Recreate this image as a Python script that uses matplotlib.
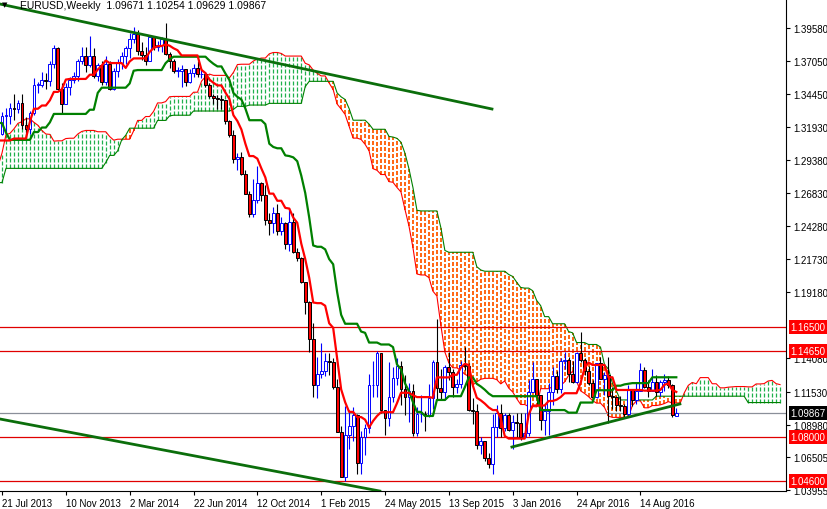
import numpy as np
import matplotlib
matplotlib.use('Agg')
import matplotlib.pyplot as plt
from matplotlib.patches import Rectangle
from matplotlib.collections import LineCollection

plt.rcParams['font.family'] = ['Liberation Sans', 'DejaVu Sans']

# Weekly EURUSD, Jan 2012 .. Oct 2016 (first open = 1.2940)
first_open = 1.2940
last_open = 1.09671
closes = [
 1.2720,1.2680,1.2930,1.3210,1.3150,1.3190,1.3240,1.3450,1.3200,1.3120,1.3170,1.3270,1.3340,1.3080,1.3080,1.3200,1.3240,1.3080,1.2920,1.2780,1.2520,1.2430,1.2520,1.2640,1.2570,1.2660,1.2290,1.2250,1.2150,1.2320,1.2390,1.2290,1.2330,1.2510,1.2580,1.2810,1.3130,1.2980,1.2860,1.3030,1.2950,1.3020,1.2940,1.2830,1.2710,1.2740,1.2970,1.2990,1.2930,1.3160,1.3190,1.3220,
 1.3070,1.3350,1.3310,1.3460,1.3640,1.3360,1.3360,1.3190,1.3020,1.3000,1.3080,1.2990,1.2820,1.2990,1.3110,1.3050,1.3030,1.3110,1.2990,1.2840,1.2930,1.2990,1.3220,1.3340,1.3120,1.3010,1.2830,1.3070,1.3140,1.3280,1.3280,1.3340,1.3330,1.3380,1.3210,1.3180,1.3300,1.3520,1.3520,1.3560,1.3550,1.3680,1.3800,1.3490,1.3370,1.3500,1.3560,1.3590,1.3700,1.3740,1.3670,1.3740,
 1.3590,1.3670,1.3540,1.3680,1.3490,1.3630,1.3690,1.3740,1.3800,1.3870,1.3910,1.3780,1.3750,1.3700,1.3890,1.3810,1.3830,1.3870,1.3760,1.3700,1.3630,1.3630,1.3640,1.3540,1.3610,1.3650,1.3600,1.3600,1.3520,1.3430,1.3420,1.3410,1.3400,1.3240,1.3130,1.2950,1.2960,1.2830,1.2680,1.2520,1.2630,1.2760,1.2670,1.2480,1.2450,1.2530,1.2390,1.2450,1.2290,1.2460,1.2230,1.2180,
 1.2000,1.1840,1.1560,1.1200,1.1290,1.1310,1.1390,1.1380,1.1190,1.0840,1.0490,1.0820,1.0890,1.0970,1.0600,1.0800,1.0870,1.1200,1.1200,1.1450,1.1010,1.0950,1.1110,1.1260,1.1350,1.1170,1.1110,1.1160,1.0830,1.0980,1.0980,1.0970,1.1100,1.1380,1.1180,1.1150,1.1340,1.1300,1.1190,1.1210,1.1360,1.1350,1.1010,1.1000,1.0740,1.0770,1.0640,1.0590,1.0880,1.0990,1.0870,1.0970,
 1.0860,1.0920,1.0910,1.0800,1.0830,1.1150,1.1250,1.1130,1.0930,1.1000,1.1150,1.1270,1.1170,1.1390,1.1400,1.1290,1.1230,1.1450,1.1400,1.1310,1.1220,1.1110,1.1370,1.1250,1.1280,1.1120,1.1110,1.1050,1.1040,1.0980,1.1170,1.1090,1.1160,1.1320,1.1190,1.1160,1.1230,1.1150,1.1230,1.1240,1.1200,1.0970,1.09867]
highs = [
 1.3080,1.2810,1.2990,1.3230,1.3230,1.3320,1.3290,1.3460,1.3490,1.3300,1.3190,1.3290,1.3385,1.3360,1.3210,1.3220,1.3280,1.3280,1.3110,1.2970,1.2820,1.2620,1.2620,1.2670,1.2750,1.2690,1.2750,1.2330,1.2320,1.2390,1.2440,1.2440,1.2380,1.2560,1.2640,1.2820,1.3170,1.3170,1.3010,1.3040,1.3070,1.3140,1.3040,1.3010,1.2880,1.2790,1.2990,1.3010,1.3090,1.3170,1.3310,1.3260,
 1.3390,1.3400,1.3400,1.3480,1.3710,1.3560,1.3450,1.3440,1.3230,1.3110,1.3110,1.3050,1.3000,1.3020,1.3200,1.3200,1.3070,1.3240,1.3240,1.3010,1.3000,1.3070,1.3310,1.3390,1.3420,1.3130,1.3090,1.3150,1.3210,1.3310,1.3340,1.3380,1.3450,1.3400,1.3450,1.3270,1.3320,1.3570,1.3540,1.3620,1.3610,1.3700,1.3830,1.3810,1.3530,1.3530,1.3580,1.3620,1.3720,1.3810,1.3810,1.3895,
 1.3800,1.3690,1.3700,1.3740,1.3700,1.3650,1.3720,1.3770,1.3820,1.3920,1.3967,1.3940,1.3850,1.3810,1.3905,1.3880,1.3860,1.3890,1.3993,1.3770,1.3720,1.3660,1.3670,1.3570,1.3640,1.3680,1.3700,1.3650,1.3620,1.3530,1.3450,1.3440,1.3440,1.3400,1.3250,1.3170,1.2990,1.3000,1.2860,1.2700,1.2790,1.2890,1.2770,1.2750,1.2530,1.2580,1.2600,1.2500,1.2460,1.2570,1.2530,1.2260,
 1.2190,1.1970,1.1850,1.1680,1.1420,1.1530,1.1450,1.1450,1.1410,1.1250,1.0890,1.1040,1.1010,1.1030,1.0980,1.0850,1.0900,1.1290,1.1390,1.1467,1.1440,1.1000,1.1380,1.1340,1.1410,1.1390,1.1280,1.1220,1.1210,1.1030,1.1130,1.1000,1.1210,1.1400,1.1714,1.1330,1.1360,1.1460,1.1330,1.1250,1.1390,1.1500,1.1370,1.1100,1.1060,1.0800,1.0760,1.0680,1.0980,1.1050,1.1060,1.0990,
 1.0990,1.0970,1.0990,1.0990,1.0990,1.1240,1.1380,1.1190,1.1070,1.1060,1.1220,1.1340,1.1310,1.1410,1.1460,1.1420,1.1390,1.1460,1.1616,1.1410,1.1350,1.1240,1.1370,1.1420,1.1300,1.1420,1.1190,1.1120,1.1120,1.1060,1.1200,1.1170,1.1220,1.1370,1.1340,1.1240,1.1330,1.1280,1.1240,1.1290,1.1270,1.1210,1.10254]
lows = [
 1.2660,1.2625,1.2660,1.2900,1.3030,1.3110,1.2975,1.3190,1.3180,1.3060,1.2980,1.3110,1.3150,1.3030,1.3000,1.3000,1.3120,1.3040,1.2910,1.2640,1.2500,1.2290,1.2380,1.2440,1.2520,1.2400,1.2270,1.2170,1.2140,1.2040,1.2130,1.2260,1.2240,1.2310,1.2480,1.2550,1.2800,1.2940,1.2800,1.2860,1.2800,1.2900,1.2880,1.2800,1.2660,1.2660,1.2730,1.2880,1.2880,1.2920,1.3150,1.3160,
 1.3000,1.2990,1.3260,1.3260,1.3440,1.3350,1.3270,1.3140,1.2970,1.2950,1.2950,1.2840,1.2750,1.2740,1.2980,1.2990,1.2960,1.3020,1.2960,1.2800,1.2800,1.2850,1.2990,1.3210,1.3100,1.2970,1.2820,1.2760,1.3020,1.3130,1.3150,1.3220,1.3250,1.3300,1.3180,1.3100,1.3140,1.3290,1.3460,1.3500,1.3490,1.3510,1.3650,1.3480,1.3300,1.3380,1.3440,1.3530,1.3550,1.3680,1.3620,1.3660,
 1.3570,1.3550,1.3520,1.3520,1.3480,1.3480,1.3580,1.3640,1.3680,1.3730,1.3840,1.3750,1.3710,1.3670,1.3700,1.3790,1.3780,1.3770,1.3750,1.3650,1.3610,1.3580,1.3500,1.3510,1.3530,1.3580,1.3580,1.3570,1.3500,1.3420,1.3370,1.3330,1.3330,1.3220,1.3120,1.2920,1.2860,1.2820,1.2680,1.2500,1.2500,1.2610,1.2620,1.2440,1.2360,1.2380,1.2360,1.2360,1.2250,1.2240,1.2220,1.2160,
 1.1990,1.1750,1.1460,1.1110,1.1100,1.1260,1.1270,1.1280,1.1170,1.0840,1.0490,1.0462,1.0710,1.0770,1.0520,1.0520,1.0660,1.0830,1.1110,1.1110,1.0990,1.0820,1.0890,1.1070,1.1200,1.1050,1.0970,1.0920,1.0810,1.0810,1.0920,1.0850,1.0960,1.1020,1.1090,1.1090,1.1090,1.1240,1.1110,1.1140,1.1180,1.1320,1.1000,1.0900,1.0710,1.0670,1.0620,1.0560,1.0520,1.0800,1.0800,1.0850,
 1.0850,1.0710,1.0800,1.0780,1.0800,1.0810,1.1150,1.1060,1.0860,1.0820,1.0820,1.1050,1.1140,1.1140,1.1330,1.1230,1.1220,1.1220,1.1380,1.1280,1.1200,1.1100,1.1100,1.1250,1.1130,1.0910,1.1020,1.1000,1.1000,1.0950,1.0960,1.1040,1.1060,1.1160,1.1180,1.1110,1.1170,1.1120,1.1120,1.1160,1.1180,1.0960,1.09629]

first_visible = 81  # week of 21 Jul 2013
date_labels = ['21 Jul 2013','10 Nov 2013','2 Mar 2014','22 Jun 2014','12 Oct 2014','1 Feb 2015',
               '24 May 2015','13 Sep 2015','3 Jan 2016','24 Apr 2016','14 Aug 2016']
ytick_vals = [1.39580,1.37050,1.34450,1.31930,1.29380,1.26830,1.24280,1.21730,1.19180,
              1.14080,1.11530,1.08980,1.06505,1.03955]
levels = [1.16500, 1.14650, 1.08000, 1.04600]
current = 1.09867
# trend lines: (bar index, price) endpoints
trend_upper = [(80.5, 1.4143), (203.8, 1.3333)]
trend_lower = [(80.5, 1.0941), (175.7, 1.0385)]
trend_support = [(208.8, 1.0725), (250.9, 1.1057)]

C = np.array(closes); H = np.array(highs); L = np.array(lows)
n = len(C)
O = np.concatenate([[first_open], C[:-1]]); O[-1] = last_open

def midline(p):
    r = np.full(n, np.nan)
    for i in range(p - 1, n):
        r[i] = (H[i-p+1:i+1].max() + L[i-p+1:i+1].min()) / 2
    return r
tenkan = midline(9); kijun = midline(26); sb = midline(52)
spanA = np.full(n + 26, np.nan); spanB = np.full(n + 26, np.nan)
spanA[26:] = (tenkan + kijun) / 2
spanB[26:] = sb

fig = plt.figure(figsize=(8.28, 5.10), dpi=100)
ax = fig.add_axes([0, 18/510, 786/828, 492/510])
x0 = 80.5; x1 = 80.5 + 786/3.99
ymax = 1.41818; ymin = ymax - 492/1296
ax.set_xlim(x0, x1); ax.set_ylim(ymin, ymax)

idx = np.arange(n + 26)
# cloud hatch: vertical columns made of short dashes (4px on, 2px off)
px = 1 / 1296.0
dash_on, period = 4 * px, 6 * px
segs_bull, segs_bear = [], []
for i in range(first_visible - 1, n + 26):
    a, b = spanA[i], spanB[i]
    if np.isnan(a) or np.isnan(b):
        continue
    lo, hi = min(a, b), max(a, b)
    target = segs_bull if a >= b else segs_bear
    y = lo
    while y < hi:
        target.append([(i, y), (i, min(y + dash_on, hi))])
        y += period
ax.add_collection(LineCollection(segs_bull, colors='#1fb04c', linewidths=0.9))
ax.add_collection(LineCollection(segs_bear, colors='#ff5a00', linewidths=1.3))
ax.plot(idx, spanA, color='#ff0000', lw=0.8)
ax.plot(idx, spanB, color='#008000', lw=0.8)

for lv in levels:
    ax.axhline(lv, color='#e00000', lw=0.9)
ax.axhline(current, color='#8a8f99', lw=0.9)

# candles
for i in range(first_visible - 1, n):
    bull = C[i] >= O[i]
    wc = '#0000ff' if bull else '#000000'
    ax.vlines(i, L[i], H[i], colors=wc, lw=0.8)
    lo, hi = min(O[i], C[i]), max(O[i], C[i])
    ax.add_patch(Rectangle((i - 0.35, lo), 0.7, max(hi - lo, 0.0003),
                           facecolor='white' if bull else '#ff0000',
                           edgecolor='#0000ff' if bull else '#000000', lw=0.7, zorder=3))

ax.plot(np.arange(n), kijun, color='#008000', lw=1.6, zorder=4)
ax.plot(np.arange(n), tenkan, color='#ff0000', lw=1.6, zorder=4)

for tl in (trend_upper, trend_lower, trend_support):
    ax.plot([tl[0][0], tl[1][0]], [tl[0][1], tl[1][1]], color='#0b6e0b', lw=2.0, zorder=5)

# axes styling
for s in ('left', 'top'):
    ax.spines[s].set_visible(False)
ax.yaxis.tick_right()
ax.set_yticks(ytick_vals)
ax.set_yticklabels([f'{v:.5f}' for v in ytick_vals], fontsize=7)
ax.tick_params(axis='y', length=3, pad=2)
ax.set_xticks([first_visible + 16 * k for k in range(len(date_labels))])
ax.set_xticklabels(date_labels, fontsize=7, ha='left')
ax.tick_params(axis='x', length=3, pad=2)

tr = ax.get_yaxis_transform()
for lv in levels:
    ax.text(1.006, lv, f'{lv:.5f}', transform=tr, fontsize=7, color='white', va='center', ha='left',
            bbox=dict(boxstyle='square,pad=0.2', fc='#ff0000', ec='none'), clip_on=False, zorder=10)
ax.text(1.006, current, f'{current:.5f}', transform=tr, fontsize=7, color='white', va='center', ha='left',
        bbox=dict(boxstyle='square,pad=0.2', fc='#000000', ec='none'), clip_on=False, zorder=10)

ax.text(0.003, 0.995, '\u25bc', transform=ax.transAxes, fontsize=5, va='top', ha='left', zorder=11,
        family='DejaVu Sans')
ax.text(0.025, 0.997, f'EURUSD,Weekly  {O[-1]:.5f} {H[-1]:.5f} {L[-1]:.5f} {C[-1]:.5f}',
        transform=ax.transAxes, fontsize=7.5, va='top', ha='left', zorder=11)

fig.savefig('out.png', dpi=100)
